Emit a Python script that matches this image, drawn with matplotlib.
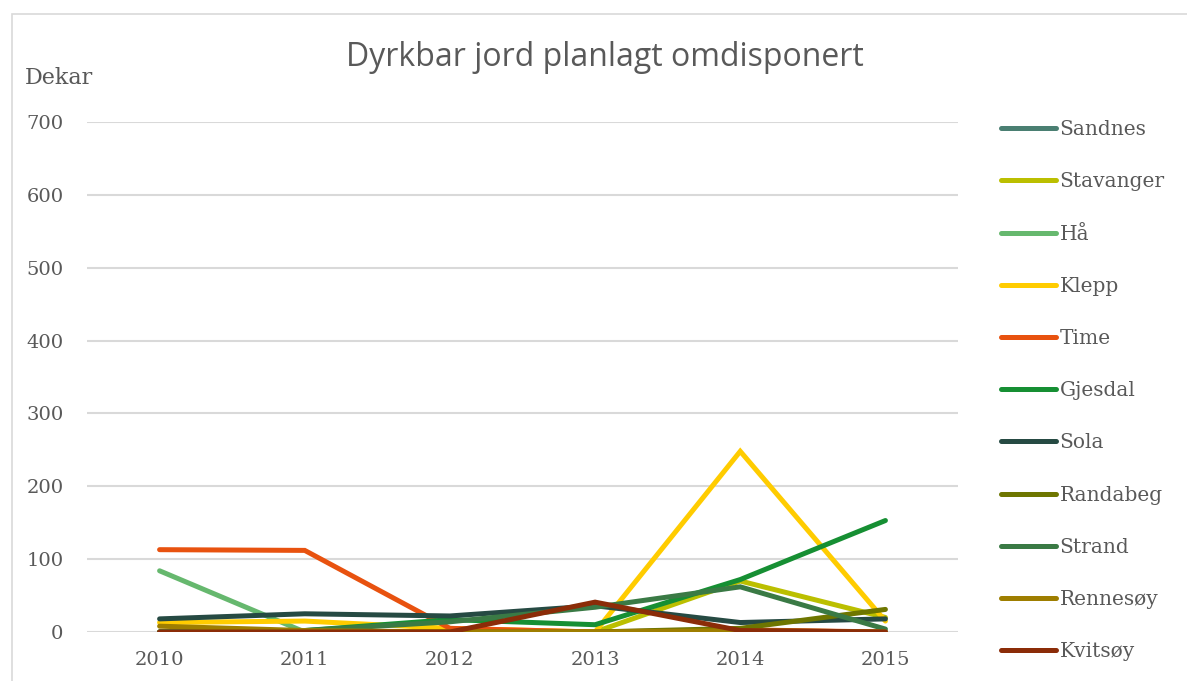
import matplotlib.pyplot as plt
from matplotlib.patches import Rectangle

years = ["2010", "2011", "2012", "2013", "2014", "2015"]

sandnes   = [0, 0, 0, 0, 0, 0]
stavanger = [0, 0, 0, 0, 70, 20]
haa       = [84, 0, 0, 0, 0, 0]
klepp     = [13, 15, 5, 0, 248, 15]
time_     = [113, 112, 5, 0, 3, 0]
gjesdal   = [0, 2, 17, 10, 72, 153]
sola      = [18, 25, 22, 36, 13, 18]
randabeg  = [0, 0, 0, 0, 5, 31]
strand    = [0, 2, 14, 34, 62, 4]
rennesoy  = [8, 2, 0, 0, 2, 0]
kvitsoy   = [0, 0, 0, 41, 2, 0]

names = ["Sandnes", "Stavanger", "Hå", "Klepp", "Time", "Gjesdal",
         "Sola", "Randabeg", "Strand", "Rennesøy", "Kvitsøy"]
series = [sandnes, stavanger, haa, klepp, time_, gjesdal,
          sola, randabeg, strand, rennesoy, kvitsoy]
colors = ["#4A7F72", "#BBBF00", "#66B86E", "#FFCC00", "#E8520F", "#168F33",
          "#264A43", "#6E7600", "#3A7A45", "#9E7E00", "#8B2C08"]

text_col = "#595959"
serif = ["DejaVu Serif"]

fig = plt.figure(figsize=(11.87, 6.81), dpi=100)
# thin frame round the chart area
fig.patches.append(Rectangle((12 / 1187, -0.1), 1.2, (681 - 14) / 681 + 0.1,
                             transform=fig.transFigure, fill=False,
                             edgecolor="#D9D9D9", linewidth=1.2))

ax = fig.add_axes([87 / 1187, 49 / 681, 871 / 1187, 510 / 681])
x = range(len(years))
for vals, name, c in zip(series, names, colors):
    ax.plot(x, vals, color=c, linewidth=3.6, solid_capstyle="round",
            solid_joinstyle="miter", label=name)

ax.set_xlim(-0.5, 5.5)
ax.set_ylim(0, 700)
ax.set_yticks(range(0, 701, 100))
ax.set_xticks(list(x))
ax.set_xticklabels(years)
ax.grid(axis="y", color="#D9D9D9", linewidth=1.5)
ax.set_axisbelow(True)
for s in ax.spines.values():
    s.set_visible(False)
ax.tick_params(length=0, labelsize=14, labelcolor=text_col)
ax.tick_params(axis="x", pad=14)
ax.tick_params(axis="y", pad=17)
for lbl in ax.get_xticklabels() + ax.get_yticklabels():
    lbl.set_family(serif)

fig.text(25 / 1187, 1 - 78 / 681, "Dekar", family=serif, fontsize=16,
         color=text_col, va="center", ha="left")
fig.text(605 / 1187, 1 - 58 / 681, "Dyrkbar jord planlagt omdisponert",
         family=["Open Sans", "DejaVu Sans"], fontsize=23, color=text_col,
         ha="center", va="center")

handles, labels = ax.get_legend_handles_labels()
fig.legend(handles, labels, loc="upper left",
           bbox_to_anchor=(983 / 1187, 1 - 102 / 681), frameon=False,
           prop={"family": serif, "size": 14.5}, labelcolor=text_col,
           handlelength=2.7, handletextpad=0.2, labelspacing=1.65)

fig.savefig("out.png", dpi=100)
